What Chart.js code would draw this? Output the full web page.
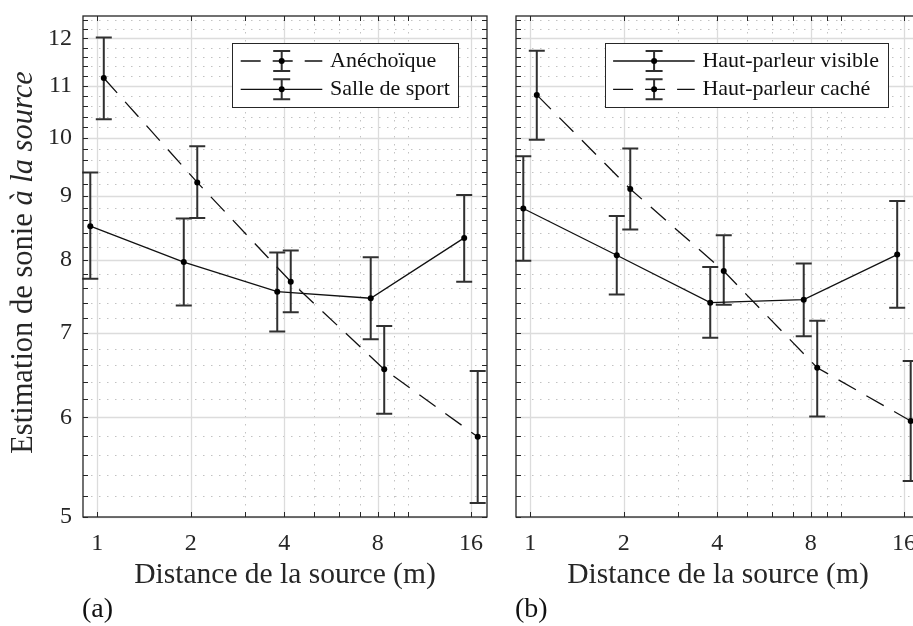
<!DOCTYPE html>
<html>
<head>
<meta charset="utf-8">
<script src="https://cdn.jsdelivr.net/npm/chart.js@4.4.0/dist/chart.umd.min.js"></script>
<style>
  html, body { margin:0; padding:0; background:#fff; overflow:hidden; width:913px; height:626px; }
  .panel { position:absolute; top:0; width:500px; height:626px; }
  #wrapA { left:0; }
  #wrapB { left:433px; }
</style>
</head>
<body>
<div class="panel" id="wrapA"><canvas id="chartA" width="500" height="626"></canvas></div>
<div class="panel" id="wrapB"><canvas id="chartB" width="500" height="626"></canvas></div>
<script>
// axes
const distances = [1, 2, 4, 8, 16];
const xTickLabels = ['1', '2', '4', '8', '16'];
const xMinorTicks = [3, 5, 6, 7, 9, 10];
const yTicks = [5, 6, 7, 8, 9, 10, 11, 12];
const yMinorTicks = [5.2, 5.4, 5.6, 5.8, 6.2, 6.4, 6.6, 6.8, 7.2, 7.4, 7.6, 7.8,
  8.2, 8.4, 8.6, 8.8, 9.2, 9.4, 9.6, 9.8, 10.2, 10.4, 10.6, 10.8,
  11.2, 11.4, 11.6, 11.8, 12.2, 12.4];
const xTitle = 'Distance de la source (m)';
const yTitleRoman = 'Estimation de sonie ';
const yTitleItalic = 'à la source';

// abscisses tracées (décalées autour de chaque distance)
const xLeft = [0.95, 1.9, 3.8, 7.6, 15.2];
const xRight = [1.05, 2.1, 4.2, 8.4, 16.8];

// (a)
const aneLabel = 'Anéchoïque';
const aneMean = [11.16, 9.22, 7.69, 6.55, 5.79];
const aneLow  = [10.35, 8.64, 7.27, 6.04, 5.13];
const aneHigh = [12.02, 9.85, 8.14, 7.09, 6.53];
const salleLabel = 'Salle de sport';
const salleMean = [8.51, 7.97, 7.55, 7.46, 8.33];
const salleLow  = [7.73, 7.36, 7.02, 6.92, 7.69];
const salleHigh = [9.39, 8.63, 8.11, 8.04, 9.01];

// (b)
const visLabel = 'Haut-parleur visible';
const visMean = [8.79, 8.07, 7.40, 7.44, 8.08];
const visLow  = [7.99, 7.51, 6.94, 6.96, 7.33];
const visHigh = [9.67, 8.67, 7.90, 7.95, 8.91];
const cacheLabel = 'Haut-parleur caché';
const cacheMean = [10.82, 9.11, 7.84, 6.57, 5.96];
const cacheLow  = [9.97, 8.46, 7.37, 6.01, 5.34];
const cacheHigh = [11.73, 9.81, 8.37, 7.16, 6.65];

const INK = '#262626';
const FONT = "'Liberation Serif', 'Times New Roman', serif";
Chart.defaults.font.family = FONT;
Chart.defaults.color = INK;

function series(label, xs, mean, low, high, dashed){
  return {
    label,
    data: xs.map((x, i) => ({ x, y: mean[i] })),
    errLow: low, errHigh: high,
    showLine: true,
    borderColor: '#111', backgroundColor: '#000',
    borderWidth: 1.3,
    borderDash: dashed ? [20, 12] : [],
    pointRadius: 3, pointBorderWidth: 0, pointBackgroundColor: '#000',
    clip: false
  };
}

// grille, barres d'erreur, cadre, légende, titres
const decor = {
  id: 'decor',
  beforeDatasetsDraw(chart, args, o){
    const { ctx, chartArea: a, scales: { x, y } } = chart;
    ctx.save();
    ctx.lineWidth = 1;
    // grille mineure pointillée
    ctx.strokeStyle = '#c2c2c2'; ctx.setLineDash([1.5, 6.5]);
    ctx.beginPath();
    xMinorTicks.forEach(v => { const p = Math.round(x.getPixelForValue(v)) + 0.5; ctx.moveTo(p, a.top); ctx.lineTo(p, a.bottom); });
    yMinorTicks.forEach(v => { const p = Math.round(y.getPixelForValue(v)) + 0.5; ctx.moveTo(a.left, p); ctx.lineTo(a.right, p); });
    ctx.stroke();
    // grille principale
    ctx.setLineDash([]); ctx.strokeStyle = '#dcdcdc'; ctx.lineWidth = 1.3;
    ctx.beginPath();
    distances.forEach(v => { const p = Math.round(x.getPixelForValue(v)) + 0.5; ctx.moveTo(p, a.top); ctx.lineTo(p, a.bottom); });
    yTicks.forEach(v => { const p = Math.round(y.getPixelForValue(v)) + 0.5; ctx.moveTo(a.left, p); ctx.lineTo(a.right, p); });
    ctx.stroke();
    // barres d'erreur
    ctx.strokeStyle = '#303030'; ctx.lineWidth = 2;
    chart.data.datasets.forEach(ds => {
      ds.data.forEach((pt, i) => {
        const px = x.getPixelForValue(pt.x);
        const lo = y.getPixelForValue(ds.errLow[i]);
        const hi = y.getPixelForValue(ds.errHigh[i]);
        ctx.beginPath();
        ctx.moveTo(px, lo); ctx.lineTo(px, hi);
        ctx.moveTo(px - 8, lo); ctx.lineTo(px + 8, lo);
        ctx.moveTo(px - 8, hi); ctx.lineTo(px + 8, hi);
        ctx.stroke();
      });
    });
    ctx.restore();
  },
  afterDatasetsDraw(chart, args, o){
    const { ctx, chartArea: a, scales: { x, y } } = chart;
    ctx.save();
    // cadre + graduations intérieures
    ctx.strokeStyle = INK; ctx.lineWidth = 1.3;
    ctx.strokeRect(a.left, a.top, a.right - a.left, a.bottom - a.top);
    ctx.lineWidth = 1;
    ctx.beginPath();
    distances.concat(xMinorTicks).forEach(v => {
      const p = Math.round(x.getPixelForValue(v)) + 0.5;
      ctx.moveTo(p, a.bottom); ctx.lineTo(p, a.bottom - 5);
      ctx.moveTo(p, a.top); ctx.lineTo(p, a.top + 5);
    });
    yTicks.concat(yMinorTicks).forEach(v => {
      const p = Math.round(y.getPixelForValue(v)) + 0.5;
      ctx.moveTo(a.left, p); ctx.lineTo(a.left + 5, p);
      ctx.moveTo(a.right, p); ctx.lineTo(a.right - 5, p);
    });
    ctx.stroke();

    // légende
    const items = chart.data.datasets;
    ctx.font = '22px ' + FONT;
    const tw = Math.max(...items.map(d => ctx.measureText(d.label).width));
    const L = o.legendLeft, T = o.legendTop, W = 97.7 + tw + 9, H = 63.7;
    ctx.fillStyle = '#fff'; ctx.fillRect(L, T, W, H);
    ctx.strokeStyle = INK; ctx.lineWidth = 1;
    ctx.strokeRect(Math.round(L) + 0.5, Math.round(T) + 0.5, Math.round(W), Math.round(H));
    items.forEach((d, i) => {
      const cy = T + 17.7 + i * 28.3;
      ctx.strokeStyle = '#111'; ctx.lineWidth = 1.3;
      ctx.setLineDash(d.borderDash);
      ctx.beginPath(); ctx.moveTo(L + 8.4, cy); ctx.lineTo(L + 90, cy); ctx.stroke();
      ctx.setLineDash([]);
      const mx = L + 49.4;
      ctx.strokeStyle = '#303030'; ctx.lineWidth = 2;
      ctx.beginPath();
      ctx.moveTo(mx, cy - 10); ctx.lineTo(mx, cy + 10);
      ctx.moveTo(mx - 8.5, cy - 10); ctx.lineTo(mx + 8.5, cy - 10);
      ctx.moveTo(mx - 8.5, cy + 10); ctx.lineTo(mx + 8.5, cy + 10);
      ctx.stroke();
      ctx.fillStyle = '#000';
      ctx.beginPath(); ctx.arc(mx, cy, 3, 0, Math.PI * 2); ctx.fill();
      ctx.fillStyle = '#111'; ctx.textBaseline = 'middle'; ctx.textAlign = 'left';
      ctx.fillText(d.label, L + 97.7, cy);
    });

    // titre vertical (romain + italique)
    if (o.yTitle){
      ctx.save();
      ctx.translate(31.5, (a.top + a.bottom) / 2 - 4);
      ctx.rotate(-Math.PI / 2);
      ctx.fillStyle = INK; ctx.textBaseline = 'alphabetic'; ctx.textAlign = 'left';
      ctx.font = '30.5px ' + FONT;
      const w1 = ctx.measureText(yTitleRoman).width;
      ctx.font = 'italic 30.5px ' + FONT;
      const w2 = ctx.measureText(yTitleItalic).width;
      const start = -(w1 + w2) / 2;
      ctx.font = '30.5px ' + FONT;
      ctx.fillText(yTitleRoman, start, 0);
      ctx.font = 'italic 30.5px ' + FONT;
      ctx.fillText(yTitleItalic, start + w1, 0);
      ctx.restore();
    }
    // repère du panneau
    ctx.font = '28px ' + FONT; ctx.fillStyle = '#111';
    ctx.textBaseline = 'alphabetic'; ctx.textAlign = 'left';
    ctx.fillText(o.tag, a.left - 1, 617);
    ctx.restore();
  }
};

function scales(showYLabels){
  return {
    x: {
      type: 'logarithmic', min: 0.9, max: 18,
      afterBuildTicks: s => { s.ticks = distances.map(v => ({ value: v })); },
      afterFit: s => { s.height = 109; s.paddingLeft = 0; s.paddingRight = 0; },
      grid: { display: false, drawTicks: false }, border: { display: false },
      ticks: { autoSkip: false, maxRotation: 0, padding: 12, color: INK,
        font: { size: 24, lineHeight: 1.2 }, callback: (v, i) => xTickLabels[i] },
      title: { display: true, text: xTitle, color: INK,
        font: { size: 29.5, lineHeight: 1.2 }, padding: { top: 0, bottom: 33 } }
    },
    y: {
      type: 'logarithmic', min: 5, max: 12.5,
      afterBuildTicks: s => { s.ticks = yTicks.map(v => ({ value: v })); },
      afterFit: s => { s.width = 83; s.paddingTop = 0; s.paddingBottom = 0; },
      grid: { display: false, drawTicks: false }, border: { display: false },
      ticks: { display: showYLabels, padding: 11, color: INK,
        font: { size: 24, lineHeight: 1.2 }, callback: v => String(v) }
    }
  };
}

function makeChart(id, datasets, opts){
  return new Chart(document.getElementById(id), {
    type: 'scatter',
    data: { datasets },
    options: {
      responsive: false, animation: false, devicePixelRatio: 1,
      layout: { padding: { top: 16, right: 13, bottom: 0, left: 0 } },
      scales: scales(opts.yLabels),
      plugins: { legend: { display: false }, tooltip: { enabled: false },
        decor: { legendLeft: opts.legendLeft, legendTop: 43.3, yTitle: opts.yLabels, tag: opts.tag } }
    },
    plugins: [decor]
  });
}

makeChart('chartA', [
  series(aneLabel, xRight, aneMean, aneLow, aneHigh, true),
  series(salleLabel, xLeft, salleMean, salleLow, salleHigh, false)
], { yLabels: true, legendLeft: 232.3, tag: '(a)' });

makeChart('chartB', [
  series(visLabel, xLeft, visMean, visLow, visHigh, false),
  series(cacheLabel, xRight, cacheMean, cacheLow, cacheHigh, true)
], { yLabels: false, legendLeft: 171.7, tag: '(b)' });
</script>
</body>
</html>
